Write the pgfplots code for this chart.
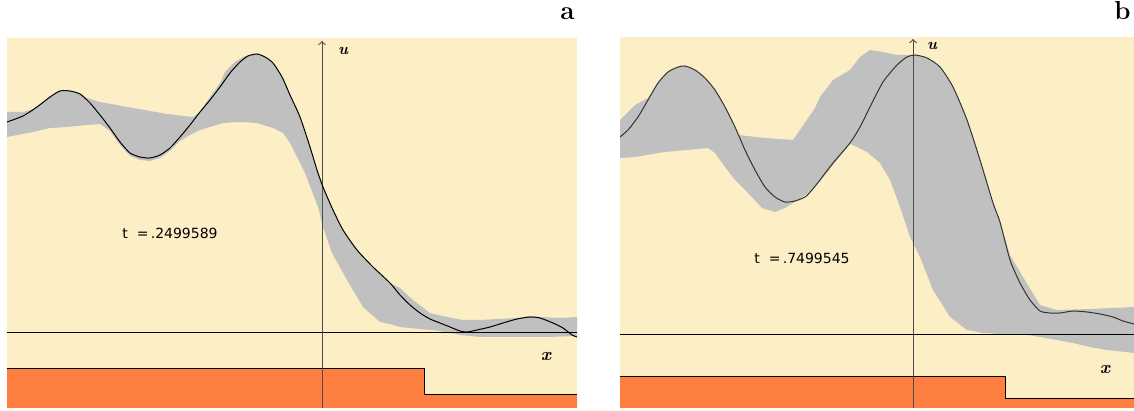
\documentclass[border=0pt]{standalone}
\usepackage{pgfplots}
\pgfplotsset{compat=1.18}
\usepackage{fontspec}
\newfontfamily\dejavu{DejaVu Sans}
\definecolor{cream}{RGB}{252,239,197}
\definecolor{band}{RGB}{192,192,192}
\definecolor{steporange}{RGB}{255,127,64}
\pgfplotsset{
  panel/.style={
    scale only axis, enlargelimits=false, clip=true,
    axis line style={draw=none}, ticks=none,
    axis background/.style={fill=cream},
  },
}
\begin{document}
\begin{tikzpicture}
\useasboundingbox (0,0) rectangle (567pt,205.5pt);
% ---------------- panel a ----------------
\begin{axis}[panel, at={(3.5pt,1.5pt)}, anchor=south west,
  width=285pt, height=185pt, xmin=-315, xmax=255, ymin=-75, ymax=295]
\addplot[fill=band, draw=none] coordinates {
(-315,221) (-299,221) (-287,224) (-272,236) (-262,242) (-252,242) (-242,239) (-235,235) (-222,231) (-189,225) (-155,219) (-129,216) (-122,221) (-112,236) (-102,250) (-97,261) (-87,271) (-77,277) (-65,279) (-57,276) (-49,270) (-40,256) (-32,238) (-22,216) (-12,186) (-5,163) (1,146) (11,123) (21,103) (35,83) (51,66) (68,50) (78,45) (91,33) (108,20) (125,16) (141,13) (158,13) (175,14) (195,15) (208,17) (218,16) (238,15) (255,16)
(255,-3) (225,-4) (191,-4) (158,-4) (138,-2) (118,2) (98,4) (78,6) (68,9) (58,11) (41,26) (25,53) (10,80) (1,106) (-4,126) (-17,160) (-32,190) (-39,200) (-49,205) (-65,210) (-82,211) (-99,210) (-112,206) (-122,203) (-132,198) (-142,192) (-152,182) (-162,175) (-172,172) (-182,173) (-192,177) (-202,188) (-212,202) (-222,209) (-235,208) (-255,206) (-272,205) (-289,201) (-315,196)
};
\addplot[fill=steporange, draw=none] coordinates {(-315,-75) (-315,-36) (102,-36) (102,-62) (255,-62) (255,-75)};
\addplot[black, line width=0.5pt] coordinates {(-315,-36) (102,-36) (102,-62) (255,-62)};
\addplot[black, line width=0.5pt] coordinates {(-315,0) (255,0)};
\addplot[black!70, line width=0.5pt, ->] coordinates {(0,-75) (0,292)};
\addplot[black, line width=0.5pt, smooth, tension=0.4] coordinates {
(-315,211) (-299,217) (-285,226) (-272,236) (-262,242) (-252,242) (-242,239) (-232,230) (-222,218) (-212,205) (-202,191) (-192,180) (-182,176) (-172,175) (-162,178) (-152,185) (-142,196) (-132,208) (-122,221) (-112,233) (-102,246) (-92,260) (-82,271) (-74,277) (-65,279) (-57,276) (-49,270) (-40,256) (-32,238) (-22,216) (-12,186) (-5,163) (1,146) (11,123) (21,103) (35,83) (51,66) (68,50) (78,38) (88,28) (98,20) (108,14) (118,10) (128,6) (138,2) (145,1) (155,3) (168,6) (181,10) (195,14) (208,16) (218,15) (231,10) (241,5) (250,-2) (255,-4)
};
\node[font=\dejavu\fontsize{7}{8}\selectfont] at (axis cs:-152,100) {t\ \ =\,.2499589};
\node[font=\fontsize{8}{9}\selectfont\bfseries\itshape] at (axis cs:21,282) {u};
\node[font=\fontsize{9}{10}\selectfont\bfseries\itshape] at (axis cs:224,-24) {x};
\end{axis}
% ---------------- panel b ----------------
\begin{axis}[panel, at={(310pt,1.5pt)}, anchor=south west,
  width=257pt, height=185.5pt, xmin=-293, xmax=221, ymin=-73, ymax=298]
\addplot[fill=band, draw=none] coordinates {
(-293,215) (-278,230) (-265,237) (-255,252) (-245,263) (-235,268) (-228,269) (-218,265) (-208,257) (-198,245) (-188,228) (-178,208) (-175,200) (-148,197) (-120,195) (-111,208) (-98,227) (-93,238) (-80,255) (-63,265) (-53,278) (-43,285) (-30,283) (-16,280) (-3,280) (2,280) (14,277) (27,268) (40,248) (54,215) (67,175) (80,132) (87,113) (97,80) (110,58) (127,30) (144,25) (177,26) (221,28)
(221,-18) (194,-15) (177,-12) (160,-8) (144,-5) (127,-2) (110,1) (87,1) (70,2) (54,5) (37,18) (20,45) (7,78) (-3,98) (-13,128) (-23,155) (-33,172) (-46,183) (-56,188) (-63,191) (-93,154) (-101,145) (-115,135) (-128,127) (-138,123) (-151,127) (-165,142) (-178,155) (-188,168) (-198,182) (-205,187) (-248,183) (-278,178) (-293,177)
};
\addplot[fill=steporange, draw=none] coordinates {(-293,-73) (-293,-42) (92,-42) (92,-64) (221,-64) (221,-73)};
\addplot[black, line width=0.5pt] coordinates {(-293,-42) (92,-42) (92,-64) (221,-64)};
\addplot[black, line width=0.5pt] coordinates {(-293,0) (221,0)};
\addplot[black!70, line width=0.5pt, ->] coordinates {(0,-73) (0,296)};
\addplot[black!80, line width=0.5pt, smooth, tension=0.4] coordinates {
(-293,198) (-285,205) (-275,218) (-265,235) (-255,252) (-245,263) (-235,268) (-228,269) (-218,265) (-208,257) (-198,245) (-188,228) (-178,208) (-168,185) (-158,165) (-148,148) (-138,138) (-128,133) (-118,134) (-108,138) (-101,145) (-93,155) (-80,172) (-63,192) (-53,208) (-43,228) (-30,253) (-16,270) (-6,278) (2,280) (14,277) (27,268) (40,248) (54,215) (67,175) (80,132) (87,113) (97,75) (107,52) (117,35) (127,24) (137,22) (147,22) (160,24) (174,23) (187,21) (200,18) (210,14) (221,11)
};
\node[font=\dejavu\fontsize{7}{8}\selectfont] at (axis cs:-111,77) {t\ \ =\,.7499545};
\node[font=\fontsize{8}{9}\selectfont\bfseries\itshape] at (axis cs:19,289) {u};
\node[font=\fontsize{9}{10}\selectfont\bfseries\itshape] at (axis cs:192,-35) {x};
\end{axis}
\node[anchor=base east, font=\fontsize{13}{15}\selectfont\bfseries, inner sep=0pt] at (287.5pt,195.5pt) {a};
\node[anchor=base east, font=\fontsize{13}{15}\selectfont\bfseries, inner sep=0pt] at (565.5pt,195.5pt) {b};
\end{tikzpicture}
\end{document}
